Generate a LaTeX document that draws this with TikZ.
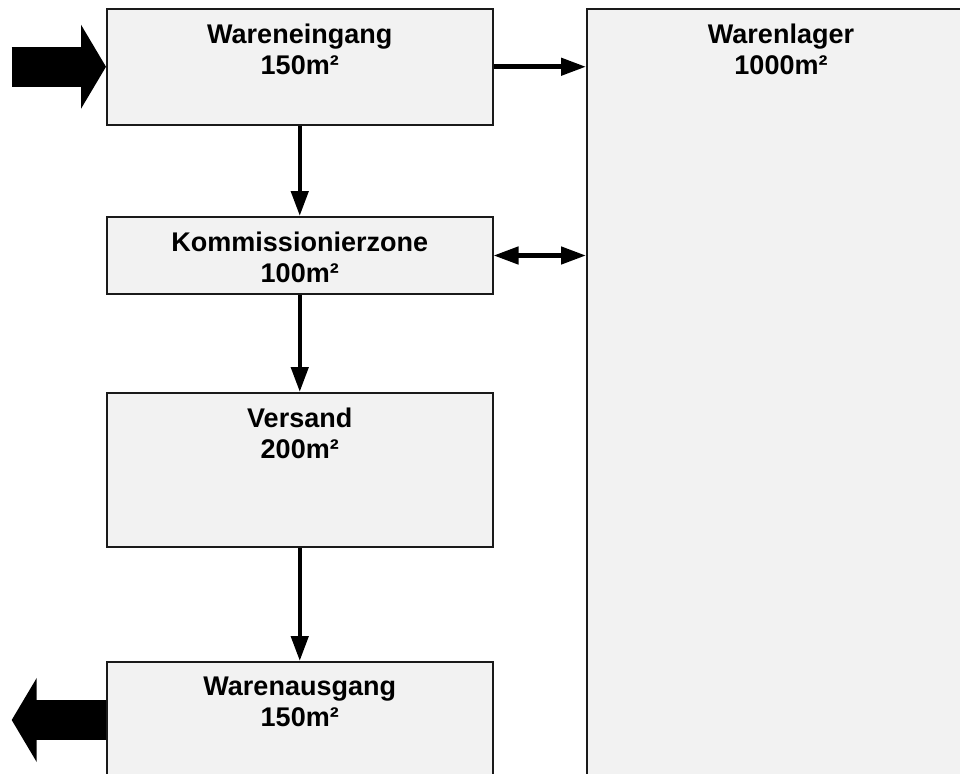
\documentclass[tikz,border=0pt]{standalone}
\usepackage{fontspec}
\setmainfont{Liberation Sans}
\usetikzlibrary{arrows.meta,calc}
\definecolor{boxfill}{HTML}{F2F2F2}
\definecolor{boxline}{HTML}{1A1A1A}
\tikzset{
  area/.style={draw=boxline, line width=2pt, fill=boxfill, rectangle, inner sep=0pt},
  lbl/.style={anchor=north, yshift=-16pt, align=center, inner sep=0pt,
    font=\fontsize{27}{31}\selectfont\bfseries},
  conn/.style={line width=4.5pt, -{Triangle[length=25pt,width=17pt]}},
  conntwo/.style={line width=4.5pt, {Triangle[length=25pt,width=17pt]}-{Triangle[length=25pt,width=17pt]}},
  fat/.style={line width=40pt, line cap=butt, -{Triangle[length=25pt,width=83pt]}}
}
\begin{document}
\begin{tikzpicture}[x=1pt,y=-1pt]
\clip (0,0) rectangle (960,773);
\fill[white] (0,0) rectangle (960,773);
\node[area, minimum width=385.5pt, minimum height=115.5pt,
  label={[lbl]north:{Wareneingang\\150m²}}] (wein) at (299.75,66.75) {};
\node[area, minimum width=385.5pt, minimum height=77pt,
  label={[lbl]north:{Kommissionierzone\\100m²}}] (komm) at (299.75,255.5) {};
\node[area, minimum width=385.5pt, minimum height=154pt,
  label={[lbl]north:{Versand\\200m²}}] (vers) at (299.75,470) {};
\node[area, minimum width=385.5pt, minimum height=116pt,
  label={[lbl]north:{Warenausgang\\150m²}}] (waus) at (299.75,720) {};
\node[area, minimum width=388pt, minimum height=781pt,
  label={[lbl]north:{Warenlager\\1000m²}}] (lager) at (781,399.5) {};
\draw[conn] (wein.east) -- (wein.east -| lager.west);
\draw[conntwo] (komm.east) -- (komm.east -| lager.west);
\draw[conn] (wein.south) -- (komm.north);
\draw[conn] (komm.south) -- (vers.north);
\draw[conn] (vers.south) -- (waus.north);
\coordinate (inS) at (11.7,66.75);
\coordinate (outE) at (11.7,720);
\draw[fat] (inS) -- (wein.west);
\draw[fat] (waus.west) -- (outE);
\end{tikzpicture}
\end{document}
